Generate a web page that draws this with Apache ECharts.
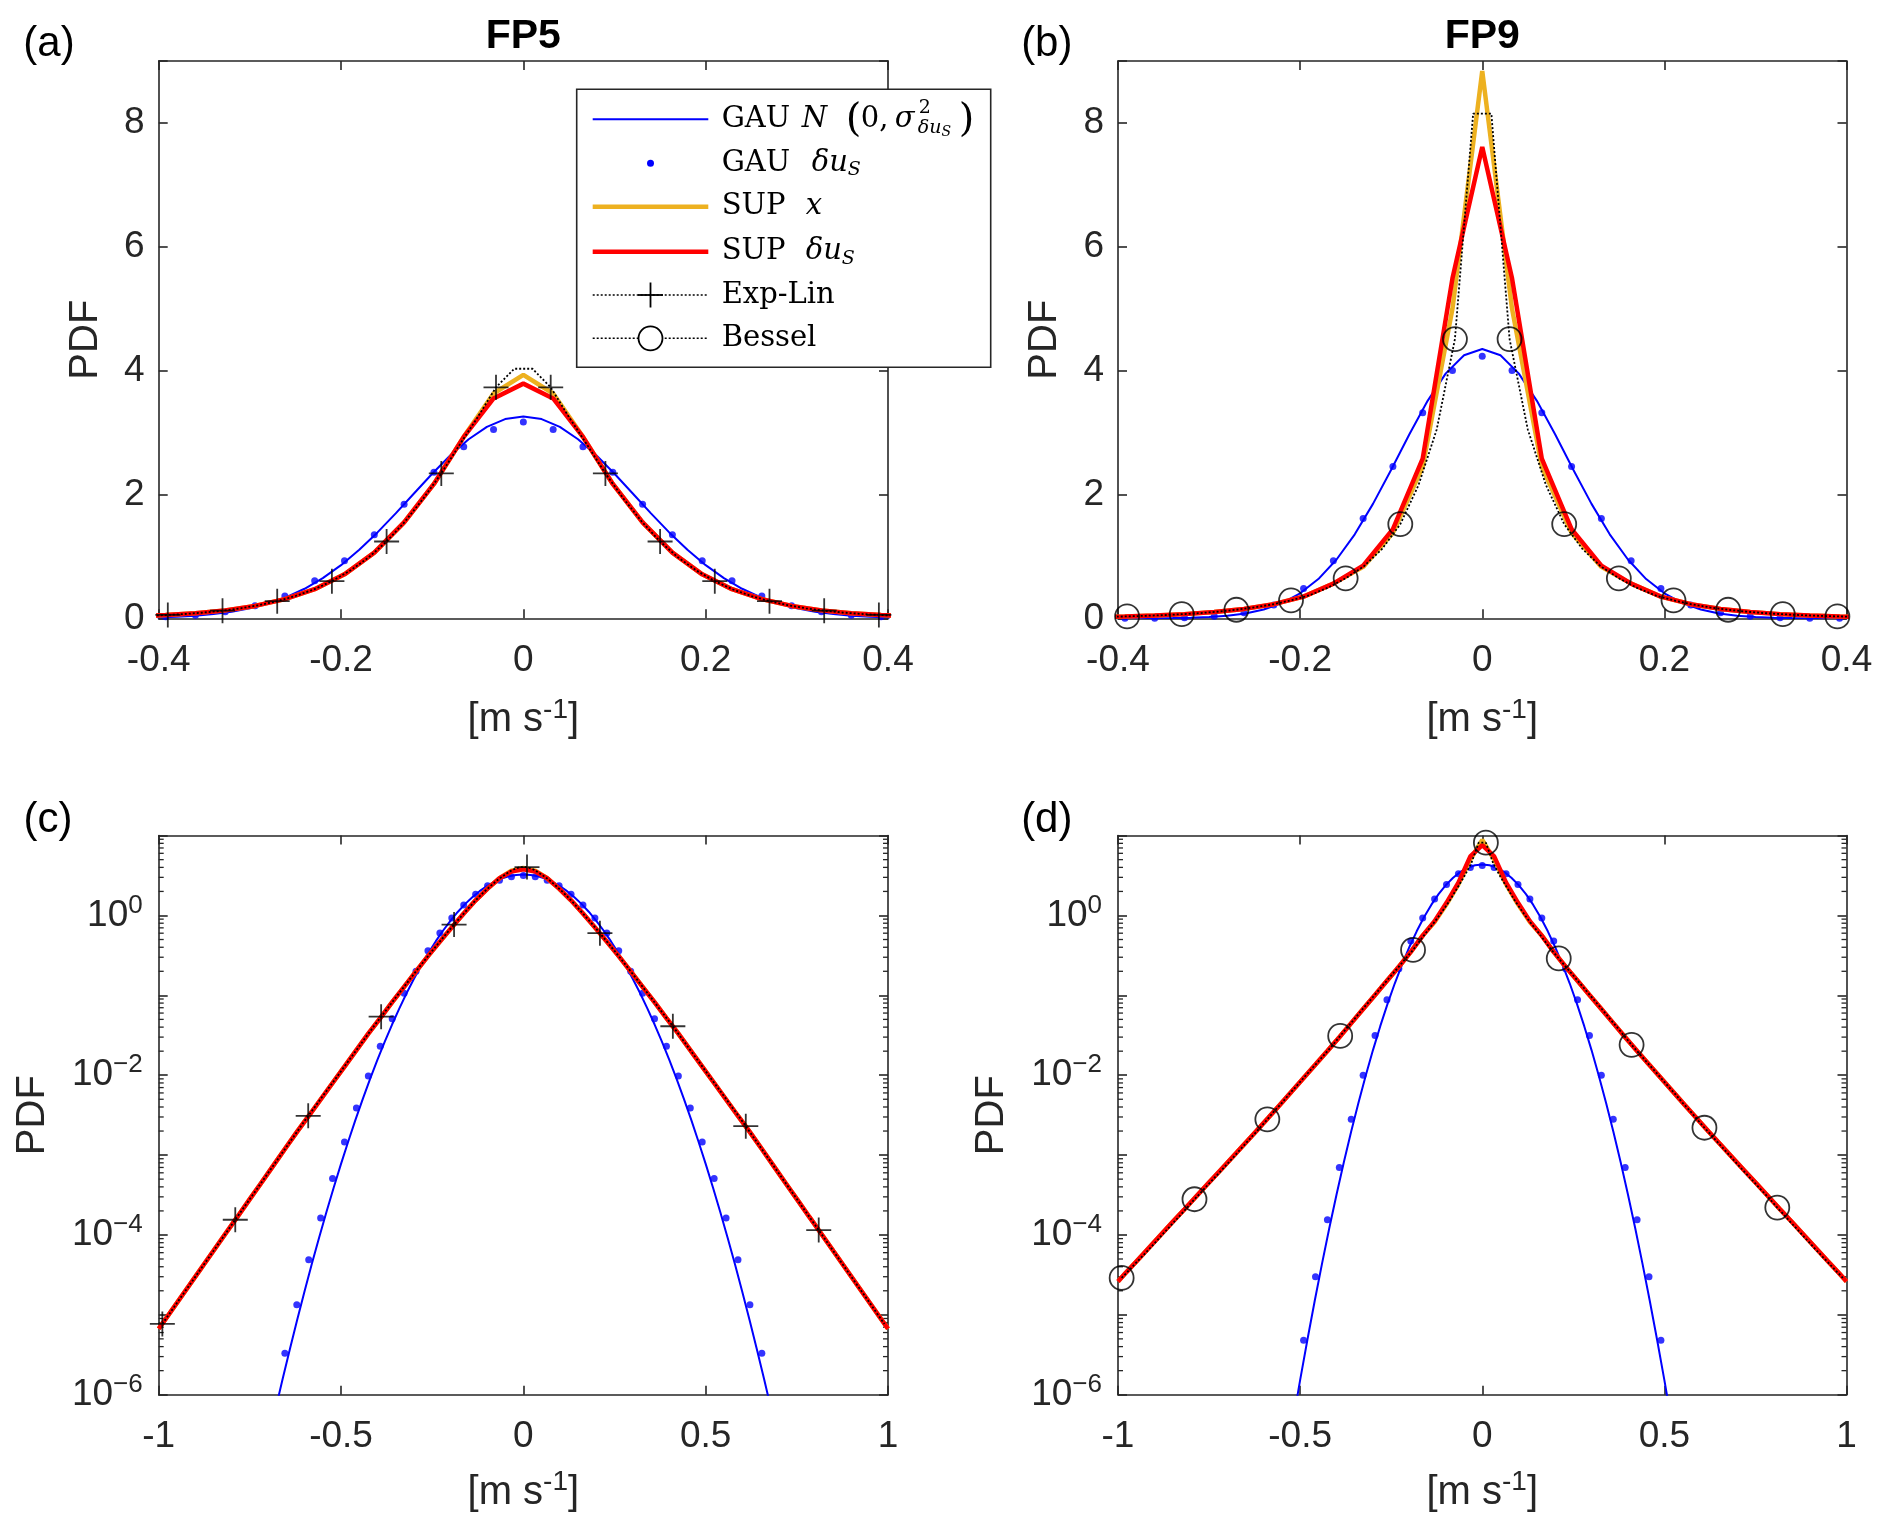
<!DOCTYPE html>
<html><head><meta charset="utf-8">
<script src="https://cdn.jsdelivr.net/npm/echarts@6/dist/echarts.min.js"></script>
<style>html,body{margin:0;padding:0;background:#fff}#c{width:1892px;height:1539px}</style>
</head><body><div id="c"></div>
<script>
// ================= DATA =================
// Gaussian fit N(0, sigma^2), FP5
const xGau5 = [-0.70,-0.68,-0.66,-0.64,-0.62,-0.60,-0.58,-0.56,-0.54,-0.52,-0.50,-0.48,-0.46,-0.44,-0.42,-0.40,-0.38,-0.36,-0.34,-0.32,-0.30,-0.28,-0.26,-0.24,-0.22,-0.20,-0.18,-0.16,-0.14,-0.12,-0.10,-0.08,-0.06,-0.04,-0.02,0,0.02,0.04,0.06,0.08,0.10,0.12,0.14,0.16,0.18,0.20,0.22,0.24,0.26,0.28,0.30,0.32,0.34,0.36,0.38,0.40,0.42,0.44,0.46,0.48,0.50,0.52,0.54,0.56,0.58,0.60,0.62,0.64,0.66,0.68,0.70];
const gau5 = [2.58e-7,6.48e-7,1.58e-6,3.77e-6,8.75e-6,1.97e-5,4.35e-5,9.28e-5,1.935e-4,3.93e-4,7.76e-4,1.492e-3,2.795e-3,5.099e-3,9.053e-3,0.01564,0.02631,0.04311,0.0688,0.1069,0.1617,0.2382,0.3415,0.4768,0.648,0.858,1.106,1.387,1.695,2.016,2.335,2.633,2.891,3.091,3.217,3.26,3.217,3.091,2.891,2.633,2.335,2.016,1.695,1.387,1.106,0.858,0.648,0.4768,0.3415,0.2382,0.1617,0.1069,0.0688,0.04311,0.02631,0.01564,9.053e-3,5.099e-3,2.795e-3,1.492e-3,7.76e-4,3.93e-4,1.935e-4,9.28e-5,4.35e-5,1.97e-5,8.75e-6,3.77e-6,1.58e-6,6.48e-7,2.58e-7];
// Gaussian fit N(0, sigma^2), FP9
const xGau9 = [-0.54,-0.52,-0.50,-0.48,-0.46,-0.44,-0.42,-0.40,-0.38,-0.36,-0.34,-0.32,-0.30,-0.28,-0.26,-0.24,-0.22,-0.20,-0.18,-0.16,-0.14,-0.12,-0.10,-0.08,-0.06,-0.04,-0.02,0,0.02,0.04,0.06,0.08,0.10,0.12,0.14,0.16,0.18,0.20,0.22,0.24,0.26,0.28,0.30,0.32,0.34,0.36,0.38,0.40,0.42,0.44,0.46,0.48,0.50,0.52,0.54];
const gau9 = [1.28e-7,4.53e-7,1.52e-6,4.88e-6,1.49e-5,4.35e-5,1.211e-4,3.21e-4,8.12e-4,1.958e-3,4.502e-3,9.87e-3,0.02063,0.04112,0.07814,0.1416,0.2447,0.4033,0.6335,0.949,1.356,1.848,2.400,2.973,3.512,3.955,4.248,4.35,4.248,3.955,3.512,2.973,2.400,1.848,1.356,0.949,0.6335,0.4033,0.2447,0.1416,0.07814,0.04112,0.02063,9.87e-3,4.502e-3,1.958e-3,8.12e-4,3.21e-4,1.211e-4,4.35e-5,1.49e-5,4.88e-6,1.52e-6,4.53e-7,1.28e-7];
// GAU delta u_S (dots)
const xDot5 = [-0.654,-0.6213,-0.5886,-0.5559,-0.5232,-0.4905,-0.4578,-0.4251,-0.3924,-0.3597,-0.327,-0.2943,-0.2616,-0.2289,-0.1962,-0.1635,-0.1308,-0.0981,-0.0654,-0.0327,0,0.0327,0.0654,0.0981,0.1308,0.1635,0.1962,0.2289,0.2616,0.2943,0.327,0.3597,0.3924,0.4251,0.4578,0.4905,0.5232,0.5559,0.5886,0.6213,0.654];
const dot5 = [3.3e-6,1.34e-5,4.9e-5,1.63e-4,5.1e-4,1.46e-3,3.9e-3,9.8e-3,0.0231,0.051,0.106,0.201,0.362,0.605,0.93,1.35,1.84,2.36,2.77,3.05,3.17,3.05,2.77,2.36,1.84,1.35,0.93,0.605,0.362,0.201,0.106,0.051,0.0231,9.8e-3,3.9e-3,1.46e-3,5.1e-4,1.63e-4,4.9e-5,1.34e-5,3.3e-6];
const xDot9 = [-0.4905,-0.4578,-0.4251,-0.3924,-0.3597,-0.327,-0.2943,-0.2616,-0.2289,-0.1962,-0.1635,-0.1308,-0.0981,-0.0654,-0.0327,0,0.0327,0.0654,0.0981,0.1308,0.1635,0.1962,0.2289,0.2616,0.2943,0.327,0.3597,0.3924,0.4251,0.4578,0.4905];
const dot9 = [4.8e-6,3.0e-5,1.55e-4,7.0e-4,2.8e-3,0.0100,0.0315,0.088,0.216,0.48,0.93,1.61,2.45,3.32,4.0,4.23,4.0,3.32,2.45,1.61,0.93,0.48,0.216,0.088,0.0315,0.0100,2.8e-3,7.0e-4,1.55e-4,3.0e-5,4.8e-6];
// SUP x and SUP delta u_S
const xSup = [-1,-0.981,-0.9483,-0.9156,-0.8829,-0.8502,-0.8175,-0.7848,-0.7521,-0.7194,-0.6867,-0.654,-0.6213,-0.5886,-0.5559,-0.5232,-0.4905,-0.4578,-0.4251,-0.3924,-0.3597,-0.327,-0.2943,-0.2616,-0.2289,-0.1962,-0.1635,-0.1308,-0.0981,-0.0654,-0.0327,0,0.0327,0.0654,0.0981,0.1308,0.1635,0.1962,0.2289,0.2616,0.2943,0.327,0.3597,0.3924,0.4251,0.4578,0.4905,0.5232,0.5559,0.5886,0.6213,0.654,0.6867,0.7194,0.7521,0.7848,0.8175,0.8502,0.8829,0.9156,0.9483,0.981,1];
const supX5 = [6.7e-6,8.87e-6,1.45e-5,2.36e-5,3.86e-5,6.29e-5,1.03e-4,1.67e-4,2.73e-4,4.45e-4,7.27e-4,1.19e-3,1.94e-3,3.09e-3,4.97e-3,7.98e-3,0.0128,0.0206,0.0331,0.052,0.082,0.128,0.20,0.31,0.47,0.71,1.06,1.55,2.17,2.93,3.63,3.93,3.63,2.93,2.17,1.55,1.06,0.71,0.47,0.31,0.20,0.128,0.082,0.052,0.0331,0.0206,0.0128,7.98e-3,4.97e-3,3.09e-3,1.94e-3,1.19e-3,7.27e-4,4.45e-4,2.73e-4,1.67e-4,1.03e-4,6.29e-5,3.86e-5,2.36e-5,1.45e-5,8.87e-6,6.7e-6];
const supDu5 = [6.7e-6,8.87e-6,1.45e-5,2.36e-5,3.86e-5,6.29e-5,1.03e-4,1.67e-4,2.73e-4,4.45e-4,7.27e-4,1.19e-3,1.94e-3,3.09e-3,4.97e-3,7.98e-3,0.0128,0.0206,0.0331,0.052,0.082,0.128,0.20,0.31,0.47,0.71,1.06,1.55,2.17,2.93,3.55,3.79,3.55,2.93,2.17,1.55,1.06,0.71,0.47,0.31,0.20,0.128,0.082,0.052,0.0331,0.0206,0.0128,7.98e-3,4.97e-3,3.09e-3,1.94e-3,1.19e-3,7.27e-4,4.45e-4,2.73e-4,1.67e-4,1.03e-4,6.29e-5,3.86e-5,2.36e-5,1.45e-5,8.87e-6,6.7e-6];
const supX9 = [2.62e-5,3.26e-5,4.73e-5,6.87e-5,9.98e-5,1.45e-4,2.10e-4,3.05e-4,4.43e-4,6.43e-4,9.33e-4,1.36e-3,1.97e-3,2.89e-3,4.25e-3,6.27e-3,9.25e-3,0.0136,0.0201,0.0299,0.0449,0.0674,0.101,0.152,0.228,0.35,0.56,0.83,1.38,2.45,5.0,8.84,5.0,2.45,1.38,0.83,0.56,0.35,0.228,0.152,0.101,0.0674,0.0449,0.0299,0.0201,0.0136,9.25e-3,6.27e-3,4.25e-3,2.89e-3,1.97e-3,1.36e-3,9.33e-4,6.43e-4,4.43e-4,3.05e-4,2.10e-4,1.45e-4,9.98e-5,6.87e-5,4.73e-5,3.26e-5,2.62e-5];
const supDu9 = [2.62e-5,3.26e-5,4.73e-5,6.87e-5,9.98e-5,1.45e-4,2.10e-4,3.05e-4,4.43e-4,6.43e-4,9.33e-4,1.36e-3,1.97e-3,2.89e-3,4.25e-3,6.27e-3,9.25e-3,0.0136,0.0201,0.0299,0.0449,0.0674,0.101,0.152,0.228,0.35,0.56,0.85,1.44,2.58,5.49,7.61,5.49,2.58,1.44,0.85,0.56,0.35,0.228,0.152,0.101,0.0674,0.0449,0.0299,0.0201,0.0136,9.25e-3,6.27e-3,4.25e-3,2.89e-3,1.97e-3,1.36e-3,9.33e-4,6.43e-4,4.43e-4,3.05e-4,2.10e-4,1.45e-4,9.98e-5,6.87e-5,4.73e-5,3.26e-5,2.62e-5];
// Exp-Lin (FP5) and Bessel (FP9) model PDFs on bin centres
const xBin = [-0.99,-0.97,-0.95,-0.93,-0.91,-0.89,-0.87,-0.85,-0.83,-0.81,-0.79,-0.77,-0.75,-0.73,-0.71,-0.69,-0.67,-0.65,-0.63,-0.61,-0.59,-0.57,-0.55,-0.53,-0.51,-0.49,-0.47,-0.45,-0.43,-0.41,-0.39,-0.37,-0.35,-0.33,-0.31,-0.29,-0.27,-0.25,-0.23,-0.21,-0.19,-0.17,-0.15,-0.13,-0.11,-0.09,-0.07,-0.05,-0.03,-0.01,0.01,0.03,0.05,0.07,0.09,0.11,0.13,0.15,0.17,0.19,0.21,0.23,0.25,0.27,0.29,0.31,0.33,0.35,0.37,0.39,0.41,0.43,0.45,0.47,0.49,0.51,0.53,0.55,0.57,0.59,0.61,0.63,0.65,0.67,0.69,0.71,0.73,0.75,0.77,0.79,0.81,0.83,0.85,0.87,0.89,0.91,0.93,0.95,0.97,0.99];
const expLin5 = [7.7e-6,1.04e-5,1.41e-5,1.9e-5,2.56e-5,3.46e-5,4.67e-5,6.3e-5,8.5e-5,1.15e-4,1.55e-4,2.09e-4,2.82e-4,3.8e-4,5.13e-4,6.93e-4,9.35e-4,1.26e-3,1.7e-3,2.3e-3,3.1e-3,4.1e-3,5.5e-3,7.3e-3,9.7e-3,0.013,0.0173,0.0231,0.0308,0.041,0.054,0.071,0.094,0.123,0.162,0.212,0.277,0.36,0.465,0.60,0.77,0.98,1.24,1.56,1.93,2.34,2.80,3.25,3.73,4.03,4.03,3.73,3.25,2.80,2.34,1.93,1.56,1.24,0.98,0.77,0.60,0.465,0.36,0.277,0.212,0.162,0.123,0.094,0.071,0.054,0.041,0.0308,0.0231,0.0173,0.013,9.7e-3,7.3e-3,5.5e-3,4.1e-3,3.1e-3,2.3e-3,1.7e-3,1.26e-3,9.35e-4,6.93e-4,5.13e-4,3.8e-4,2.82e-4,2.09e-4,1.55e-4,1.15e-4,8.5e-5,6.3e-5,4.67e-5,3.46e-5,2.56e-5,1.9e-5,1.41e-5,1.04e-5,7.7e-6];
const bessel9 = [2.9e-5,3.6e-5,4.5e-5,5.6e-5,7.0e-5,8.8e-5,1.11e-4,1.39e-4,1.75e-4,2.2e-4,2.8e-4,3.5e-4,4.4e-4,5.5e-4,6.9e-4,8.7e-4,1.1e-3,1.39e-3,1.75e-3,2.2e-3,2.8e-3,3.6e-3,4.5e-3,5.8e-3,7.3e-3,9.3e-3,0.0118,0.0149,0.0189,0.024,0.031,0.040,0.051,0.066,0.084,0.108,0.138,0.177,0.226,0.29,0.37,0.49,0.646,0.84,1.12,1.52,2.15,3.05,4.51,8.15,8.15,4.51,3.05,2.15,1.52,1.12,0.84,0.646,0.49,0.37,0.29,0.226,0.177,0.138,0.108,0.084,0.066,0.051,0.040,0.031,0.024,0.0189,0.0149,0.0118,9.3e-3,7.3e-3,5.8e-3,4.5e-3,3.6e-3,2.8e-3,2.2e-3,1.75e-3,1.39e-3,1.1e-3,8.7e-4,6.9e-4,5.5e-4,4.4e-4,3.5e-4,2.8e-4,2.2e-4,1.75e-4,1.39e-4,1.11e-4,8.8e-5,7.0e-5,5.6e-5,4.5e-5,3.6e-5,2.9e-5];
// which bins carry a marker
const markIdxLin = [30,33,36,39,42,45,48,51,54,57,60,63,66,69];
const markIdxLog = [0,10,20,30,40,50,60,70,80,90];
// minor ticks of the log axes
const minorMant = [2,3,4,5,6,7,8,9];
const minorDecades = [1e-6,1e-5,1e-4,1e-3,1e-2,1e-1,1];
const panelTitles = ['FP5','FP9'];
const panelLetters = ['(a)','(b)','(c)','(d)'];

// ================= STYLE / LAYOUT =================
const AX = '#262626';
const SANS = '"Liberation Sans", Arial, Helvetica, sans-serif';
const SERIF = '"DejaVu Serif", "Liberation Serif", serif';
const BLUE = '#0000ff', YEL = '#EDB120', RED = '#ff0000';
const gridsPx = [
  {left:158.7, top:61, width:729.3, height:557.3},
  {left:1118, top:61, width:728.5, height:557.3},
  {left:158.7, top:835.6, width:729.3, height:559.1},
  {left:1118, top:835.6, width:728.5, height:559.1}
];
const isLog = [false,false,true,true];

const chart = echarts.init(document.getElementById('c'), null, {width:1892, height:1539, renderer:'canvas'});

const axLine = {show:true, onZero:false, lineStyle:{color:AX, width:1.6}};
const xAxes = [], yAxes = [];
gridsPx.forEach((g,i) => {
  const lg = isLog[i];
  const xr = lg ? {min:-1, max:1, interval:0.5} : {min:-0.4, max:0.4, interval:0.2};
  xAxes.push(Object.assign({
    gridIndex:i, type:'value', position:'bottom', axisLine:axLine,
    axisTick:{show:true, inside:true, length:9, lineStyle:{color:AX, width:1.6}},
    splitLine:{show:false},
    axisLabel:{color:AX, fontSize:37, fontFamily:SANS, margin:22, lineHeight:40},
    name:'{n|[m s}{s|-1}{n|]}', nameLocation:'middle', nameGap: lg ? 74 : 78,
    nameTextStyle:{color:AX, fontFamily:SANS, fontSize:40, lineHeight:48,
      rich:{n:{fontSize:40, lineHeight:48, fontFamily:SANS, color:AX},
            s:{fontSize:28, lineHeight:30, verticalAlign:'top', fontFamily:SANS, color:AX}}}
  }, xr));
  xAxes.push(Object.assign({
    gridIndex:i, type:'value', position:'top', axisLine:axLine,
    axisTick:{show:true, inside:true, length:9, lineStyle:{color:AX, width:1.6}},
    splitLine:{show:false}, axisLabel:{show:false}
  }, xr));
  if (lg) {
    const yr = {type:'log', logBase:10, min:1e-6, max:10};
    yAxes.push(Object.assign({
      gridIndex:i, position:'left', axisLine:axLine,
      axisTick:{show:true, inside:true, length:9, lineStyle:{color:AX, width:1.6}},
      splitLine:{show:false},
      axisLabel:{color:AX, fontFamily:SANS, margin:16,
        formatter: v => { const e = Math.round(Math.log10(v)); return (e % 2 === 0 && e <= 0) ? '{b|10}{s|' + (e < 0 ? '\u2212' + (-e) : '0') + '}' : ''; },
        rich:{b:{fontSize:37, lineHeight:46, fontFamily:SANS, color:AX},
              s:{fontSize:26, lineHeight:28, verticalAlign:'top', fontFamily:SANS, color:AX}}},
      name:'PDF', nameLocation:'middle', nameGap:106,
      nameTextStyle:{color:AX, fontFamily:SANS, fontSize:40}
    }, yr));
    yAxes.push(Object.assign({
      gridIndex:i, position:'right', axisLine:axLine,
      axisTick:{show:true, inside:true, length:9, lineStyle:{color:AX, width:1.6}},
      splitLine:{show:false}, axisLabel:{show:false}
    }, yr));
  } else {
    const yr = {type:'value', min:0, max:9, interval:2};
    yAxes.push(Object.assign({
      gridIndex:i, position:'left', axisLine:axLine,
      axisTick:{show:true, inside:true, length:9, lineStyle:{color:AX, width:1.6}},
      splitLine:{show:false},
      axisLabel:{color:AX, fontSize:37, fontFamily:SANS, margin:14, formatter: v => (v > 8.5 ? '' : String(v))},
      name:'PDF', nameLocation:'middle', nameGap:53,
      nameTextStyle:{color:AX, fontFamily:SANS, fontSize:40}
    }, yr));
    yAxes.push(Object.assign({
      gridIndex:i, position:'right', axisLine:axLine,
      axisTick:{show:true, inside:true, length:9, lineStyle:{color:AX, width:1.6}},
      splitLine:{show:false}, axisLabel:{show:false}
    }, yr));
  }
});

function pairs(xs, ys) { return xs.map((x,k) => [x, ys[k]]); }
function pick(xs, ys, idx) { return idx.map(k => [xs[k], ys[k]]); }

const panels = [
  {gau:[xGau5,gau5], dot:[xDot5,dot5], sx:supX5, sd:supDu5, ref:expLin5, mk:'plus', idx:markIdxLin},
  {gau:[xGau9,gau9], dot:[xDot9,dot9], sx:supX9, sd:supDu9, ref:bessel9, mk:'circle', idx:markIdxLin},
  {gau:[xGau5,gau5], dot:[xDot5,dot5], sx:supX5, sd:supDu5, ref:expLin5, mk:'plus', idx:markIdxLog},
  {gau:[xGau9,gau9], dot:[xDot9,dot9], sx:supX9, sd:supDu9, ref:bessel9, mk:'circle', idx:markIdxLog}
];
const PLUS = 'path://M12,0L12,24M0,12L24,12';
const minorVals = [];
minorDecades.forEach(d => minorMant.forEach(m => minorVals.push([0, m * d])));

const series = [];
panels.forEach((p,i) => {
  const ax = {xAxisIndex:2*i, yAxisIndex:2*i};
  series.push(Object.assign({type:'line', name:'GAU N', data:pairs(p.gau[0], p.gau[1]), symbol:'none', lineStyle:{color:BLUE, width:2}, silent:true, clip:true}, ax));
  series.push(Object.assign({type:'scatter', name:'GAU du', data:pairs(p.dot[0], p.dot[1]), symbol:'circle', symbolSize:7, itemStyle:{color:BLUE}, silent:true, clip:true}, ax));
  series.push(Object.assign({type:'line', name:'SUP x', data:pairs(xSup, p.sx), symbol:'none', lineStyle:{color:YEL, width:4.5}, silent:true, clip:true}, ax));
  series.push(Object.assign({type:'line', name:'SUP du', data:pairs(xSup, p.sd), symbol:'none', lineStyle:{color:RED, width:4.5}, silent:true, clip:true}, ax));
  series.push(Object.assign({type:'line', name:'model', data:pairs(xBin, p.ref), symbol:'none', lineStyle:{color:'#000', width:1.8, type:[2,2]}, silent:true, clip:true}, ax));
  series.push(Object.assign({type:'scatter', name:'marks', data:pick(xBin, p.ref, p.idx),
    symbol: p.mk === 'plus' ? PLUS : 'circle', symbolSize: p.mk === 'plus' ? 25 : 24,
    itemStyle:{color:'rgba(0,0,0,0)', borderColor:'#000', borderWidth:1.8}, silent:true, clip:false, z:5}, ax));
  if (isLog[i]) {
    series.push(Object.assign({type:'custom', name:'minor', data:minorVals, silent:true, clip:false, z:1,
      renderItem:(params, api) => {
        const v = api.value(1);
        const a = api.coord([-1, v]), b = api.coord([1, v]);
        return {type:'group', children:[
          {type:'line', shape:{x1:a[0], y1:a[1], x2:a[0]+5, y2:a[1]}, style:{stroke:AX, lineWidth:1.3}},
          {type:'line', shape:{x1:b[0]-5, y1:b[1], x2:b[0], y2:b[1]}, style:{stroke:AX, lineWidth:1.3}}
        ]};
      }}, ax));
  }
});

// ---------- texts: titles, panel letters ----------
const graphics = [];
function txt(x, y, t, font) {
  return {type:'text', x:x, y:y, z:100, silent:true,
    style:{text:t, font:font, fill:'#000', align:'center', verticalAlign:'middle', textAlign:'center', textVerticalAlign:'middle'}};
}
graphics.push(txt(523.3, 37, panelTitles[0], 'bold 41px ' + SANS));
graphics.push(txt(1482.3, 37, panelTitles[1], 'bold 41px ' + SANS));
graphics.push(txt(49, 44, panelLetters[0], '42px ' + SANS));
graphics.push(txt(1046.8, 44, panelLetters[1], '42px ' + SANS));
graphics.push(txt(48, 820, panelLetters[2], '42px ' + SANS));
graphics.push(txt(1046.8, 820, panelLetters[3], '42px ' + SANS));

// ---------- legend (drawn in panel a) ----------
const mctx = document.createElement('canvas').getContext('2d');
function F(size, it) { return (it ? 'italic ' : '') + size + 'px ' + SERIF; }
function run(x0, yc, segs) {
  let cx = x0;
  segs.forEach(s => {
    if (s.at != null) cx = x0 + s.at;
    mctx.font = s.f;
    const w = mctx.measureText(s.t).width;
    graphics.push({type:'text', x:cx, y:yc + (s.dy || 0), z:102, silent:true,
      style:{text:s.t, font:s.f, fill:'#000', align:'left', verticalAlign:'middle', textAlign:'left', textVerticalAlign:'middle'}});
    cx += w;
  });
}
const LB = {x:576.7, y:89.3, w:414, h:278};
graphics.push({type:'rect', z:101, silent:true, shape:{x:LB.x, y:LB.y, width:LB.w, height:LB.h}, style:{fill:'#fff', stroke:AX, lineWidth:1.6}});
const rows = [119.3, 163.3, 206.7, 251.7, 295, 338.3];
const lx1 = 592.7, lx2 = 708.3, lmx = 650.5, tx = 721.7;
graphics.push({type:'line', z:102, silent:true, shape:{x1:lx1, y1:rows[0], x2:lx2, y2:rows[0]}, style:{stroke:BLUE, lineWidth:2}});
graphics.push({type:'circle', z:102, silent:true, shape:{cx:lmx, cy:rows[1], r:3.5}, style:{fill:BLUE}});
graphics.push({type:'line', z:102, silent:true, shape:{x1:lx1, y1:rows[2], x2:lx2, y2:rows[2]}, style:{stroke:YEL, lineWidth:4.5}});
graphics.push({type:'line', z:102, silent:true, shape:{x1:lx1, y1:rows[3], x2:lx2, y2:rows[3]}, style:{stroke:RED, lineWidth:4.5}});
graphics.push({type:'line', z:102, silent:true, shape:{x1:lx1, y1:rows[4], x2:lx2, y2:rows[4]}, style:{stroke:'#000', lineWidth:1.6, lineDash:[2,2]}});
graphics.push({type:'line', z:103, silent:true, shape:{x1:lmx-12.5, y1:rows[4], x2:lmx+12.5, y2:rows[4]}, style:{stroke:'#000', lineWidth:1.8}});
graphics.push({type:'line', z:103, silent:true, shape:{x1:lmx, y1:rows[4]-12.5, x2:lmx, y2:rows[4]+12.5}, style:{stroke:'#000', lineWidth:1.8}});
graphics.push({type:'line', z:102, silent:true, shape:{x1:lx1, y1:rows[5], x2:lx2, y2:rows[5]}, style:{stroke:'#000', lineWidth:1.6, lineDash:[2,2]}});
graphics.push({type:'circle', z:103, silent:true, shape:{cx:lmx, cy:rows[5], r:12}, style:{fill:'#fff', stroke:'#000', lineWidth:1.8}});

const R = F(29), I = F(29, true);
run(tx, rows[0], [{t:'GAU', f:R, at:0}, {t:'N', f:I, at:80}, {t:'(', f:F(40), dy:1, at:124}, {t:'0,', f:R, at:139}, {t:'\u03C3', f:I, at:173},
  {t:'2', f:F(19), dy:-11, at:197}, {t:'\u03B4u', f:F(19, true), dy:9, at:196}, {t:'S', f:F(14, true), dy:13}, {t:')', f:F(40), dy:1, at:237}]);
run(tx, rows[1], [{t:'GAU', f:R, at:0}, {t:'\u03B4u', f:I, at:90}, {t:'S', f:F(19, true), dy:7}]);
run(tx, rows[2], [{t:'SUP', f:R, at:0}, {t:'x', f:I, at:84}]);
run(tx, rows[3], [{t:'SUP', f:R, at:0}, {t:'\u03B4u', f:I, at:84}, {t:'S', f:F(19, true), dy:7}]);
run(tx, rows[4], [{t:'Exp-Lin', f:R, at:0}]);
run(tx, rows[5], [{t:'Bessel', f:R, at:0}]);

chart.setOption({
  animation:false,
  backgroundColor:'#ffffff',
  textStyle:{fontFamily:SANS},
  grid: gridsPx.map(g => Object.assign({containLabel:false, outerBoundsMode:'none'}, g)),
  xAxis: xAxes,
  yAxis: yAxes,
  series: series,
  graphic: graphics
});
</script>
</body></html>
